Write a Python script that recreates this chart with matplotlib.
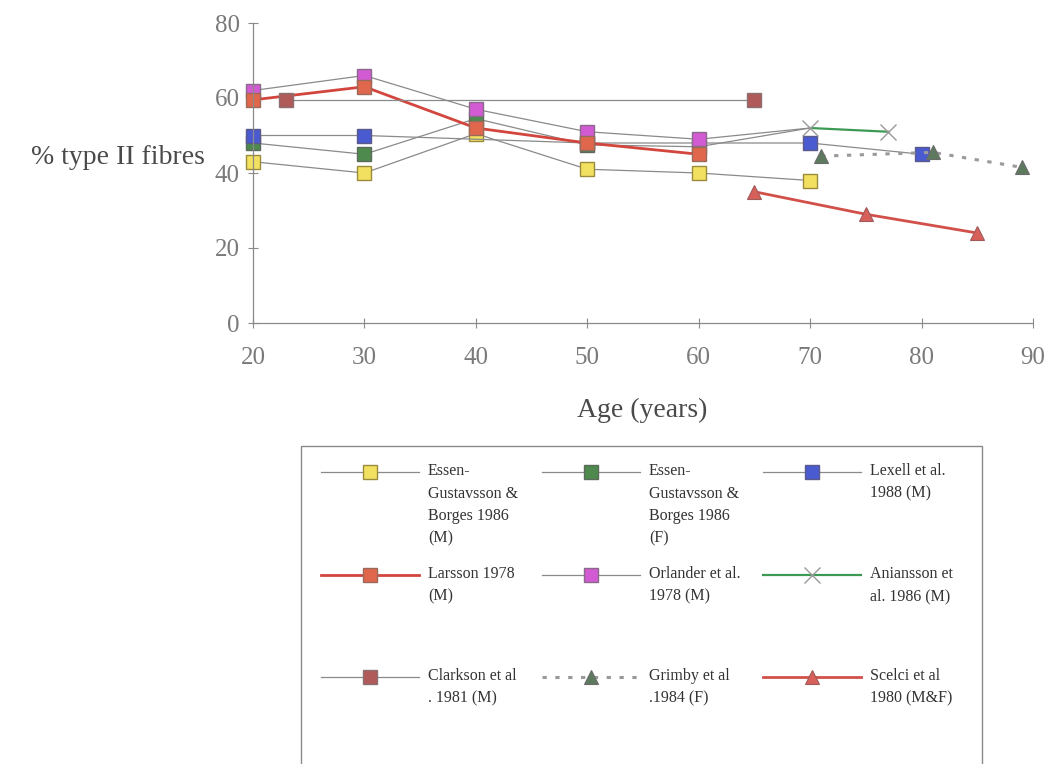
import matplotlib
matplotlib.use("Agg")
import matplotlib.pyplot as plt
from matplotlib.lines import Line2D
from matplotlib.patches import Rectangle

# ---- data: % type II fibres by age, per study ----
eg_m_age = [20, 30, 40, 50, 60, 70]
eg_m_val = [43, 40, 50.5, 41, 40, 38]

eg_f_age = [20, 30, 40, 50, 60, 70]
eg_f_val = [48, 45, 54.5, 47.5, 47, 52]

lexell_age = [20, 30, 50, 70, 80]
lexell_val = [50, 50, 48, 48, 45]

larsson_age = [20, 30, 40, 50, 60]
larsson_val = [59.5, 63, 52, 48, 45]

orlander_age = [20, 30, 40, 50, 60, 70]
orlander_val = [62, 66, 57, 51, 49, 52]

aniansson_age = [70, 77]
aniansson_val = [52, 51]

clarkson_age = [23, 65]
clarkson_val = [59.5, 59.5]

grimby_age = [71, 81, 89]
grimby_val = [44.5, 45.5, 41.5]

scelci_age = [65, 75, 85]
scelci_val = [35, 29, 24]

labels = [
    "Essen-\nGustavsson &\nBorges 1986\n(M)",
    "Essen-\nGustavsson &\nBorges 1986\n(F)",
    "Lexell et al.\n1988 (M)",
    "Larsson 1978\n(M)",
    "Orlander et al.\n1978 (M)",
    "Aniansson et\nal. 1986 (M)",
    "Clarkson et al\n. 1981 (M)",
    "Grimby et al\n.1984 (F)",
    "Scelci et al\n1980 (M&F)",
]

x_ticks = [20, 30, 40, 50, 60, 70, 80, 90]
y_ticks = [0, 20, 40, 60, 80]

# ---- styles ----
GRAY = "#8a8a8a"
sq = dict(marker="s", markersize=9.5, markeredgewidth=1.0)
tri = dict(marker="^", markersize=10.5, markeredgewidth=0.8)

styles = [
    dict(color=GRAY, lw=0.9, markerfacecolor="#f2e060", markeredgecolor="#9a8c3c", **sq),
    dict(color=GRAY, lw=0.9, markerfacecolor="#4e8a4e", markeredgecolor="#5c6a5c", **sq),
    dict(color=GRAY, lw=0.9, markerfacecolor="#4a5ad0", markeredgecolor="#5a5a8a", **sq),
    dict(color="#d2463e", lw=2.0, markerfacecolor="#e0664c", markeredgecolor="#9a6a5a", **sq),
    dict(color=GRAY, lw=0.9, markerfacecolor="#d25ad2", markeredgecolor="#8a6a8a", **sq),
    dict(color="#3c9a54", lw=1.6, marker="x", markersize=11, markeredgewidth=1.0,
         markeredgecolor="#9a9a9a"),
    dict(color=GRAY, lw=0.9, markerfacecolor="#b05a5a", markeredgecolor="#8a7070", **sq),
    dict(color="#9a9a9a", lw=2.2, linestyle=(0, (1.4, 2.8)),
         markerfacecolor="#5e7a5e", markeredgecolor="#6a6a6a", **tri),
    dict(color="#d2504a", lw=2.0, markerfacecolor="#d8605a", markeredgecolor="#a05a5a", **tri),
]

series = [
    (eg_m_age, eg_m_val, None),
    (eg_f_age, eg_f_val, [0, 1, 2, 3, 4]),
    (lexell_age, lexell_val, None),
    (orlander_age, orlander_val, [0, 1, 2, 3, 4]),
    (larsson_age, larsson_val, None),
    (aniansson_age, aniansson_val, None),
    (clarkson_age, clarkson_val, None),
    (grimby_age, grimby_val, None),
    (scelci_age, scelci_val, None),
]
style_idx = [0, 1, 2, 4, 3, 5, 6, 7, 8]

W, H = 1047, 764
fig = plt.figure(figsize=(W / 100, H / 100), dpi=100)
fig.patch.set_facecolor("white")

ax = fig.add_axes([253 / W, 1 - 323 / H, (1033 - 253) / W, 300 / H])
for (xs, ys, mev), si in zip(series, style_idx):
    st = dict(styles[si])
    if mev is not None:
        st["markevery"] = mev
    ax.plot(xs, ys, clip_on=False, **st)

ax.set_xlim(20, 90)
ax.set_ylim(0, 80)
ax.set_xticks(x_ticks)
ax.set_yticks(y_ticks)
for s in ("top", "right"):
    ax.spines[s].set_visible(False)
for s in ("left", "bottom"):
    ax.spines[s].set_color("#8a8a8a")
    ax.spines[s].set_linewidth(0.9)
ax.tick_params(direction="inout", length=7, width=0.8, color="#8a8a8a",
               labelcolor="#7a7a7a", labelsize=18)
ax.tick_params(axis="x", pad=14)
ax.tick_params(axis="y", pad=6)
for lab in ax.get_xticklabels() + ax.get_yticklabels():
    lab.set_fontfamily("Liberation Serif")
ax.set_facecolor("none")

fig.text(205 / W, 1 - 157 / H, "% type II fibres", ha="right", va="center",
         fontsize=20, family="Liberation Serif", color="#4a4a4a")
fig.text(642 / W, 1 - 410 / H, "Age (years)", ha="center", va="center",
         fontsize=20, family="Liberation Serif", color="#4a4a4a")

# ---- legend panel (pixel coordinates) ----
lg = fig.add_axes([0, 0, 1, 1])
lg.set_xlim(0, W)
lg.set_ylim(H, 0)
lg.axis("off")
lg.add_patch(Rectangle((301, 446), 982 - 301, 340, fill=False,
                       edgecolor="#8a8a8a", lw=1.0, clip_on=False))

col_x = [321, 542, 763]
row_y = [472, 575, 677]
for k, text in enumerate(labels):
    r, c = divmod(k, 3)
    x0 = col_x[c]
    y0 = row_y[r]
    st = dict(styles[k])
    lg.add_line(Line2D([x0, x0 + 49, x0 + 98], [y0, y0, y0], markevery=[1], **st))
    lg.text(x0 + 107, y0 - 9, text, ha="left", va="top", fontsize=11.5,
            family="Liberation Serif", color="#333333", linespacing=1.55)

fig.savefig("out.png", dpi=100, facecolor="white")
